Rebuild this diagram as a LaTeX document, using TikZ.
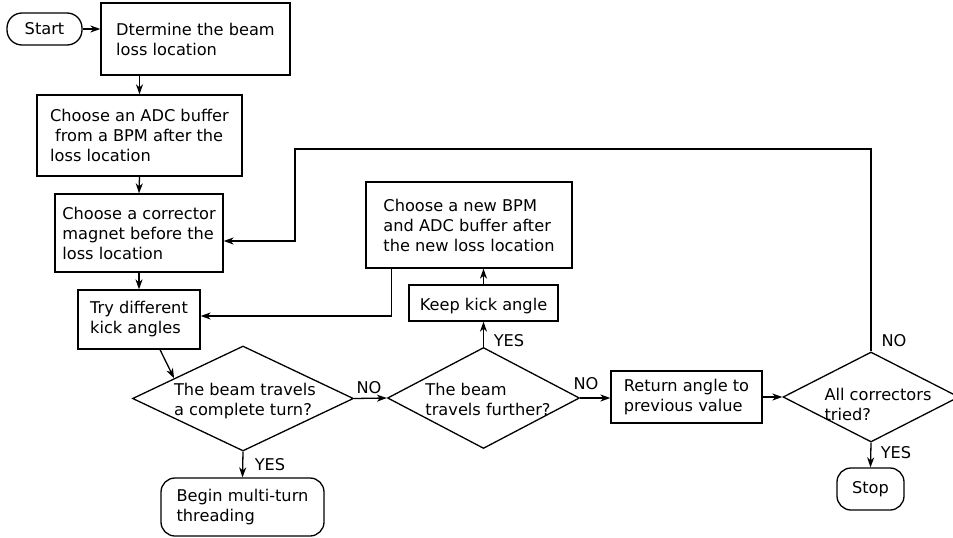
\documentclass[tikz,border=0pt]{standalone}
\usepackage{fontspec}
\setmainfont{DejaVu Sans}
\usetikzlibrary{shapes.geometric,arrows.meta,calc}
\begin{document}
\begin{tikzpicture}[x=1pt,y=-1pt,
  every node/.style={font=\fontsize{16.2}{20}\selectfont},
  box/.style={draw, line width=1.3pt, align=left, inner sep=0pt},
  low/.style={execute at begin node={\rule{0pt}{18.5pt}}},
  term/.style={box, rounded corners=14pt},
  dec/.style={draw, diamond, line width=1.3pt, inner sep=0pt},
  dtext/.style={align=left, inner sep=0pt},
  lab/.style={inner sep=0pt},
  conn/.style={line width=1.3pt, -{Stealth[length=10pt,width=7pt,inset=3pt]}}]
\useasboundingbox (0,0) rectangle (953,538);
% nodes
\node[term, rounded corners=15pt, minimum width=75pt, minimum height=32pt] (start) at (44.5,29) {Start};
\node[box, low, minimum width=189pt, minimum height=72pt] (b1) at (195.5,39) {Dtermine the beam\\loss location};
\node[box, low, minimum width=205pt, minimum height=81pt] (b2) at (139.5,135.5) {Choose an ADC buffer\\\hspace*{5pt}from a BPM after the\\loss location};
\node[box, low, minimum width=168pt, minimum height=78pt] (b3) at (139,233) {Choose a corrector\\magnet before the\\loss location};
\node[box, low, minimum width=122pt, minimum height=59pt] (b4) at (139,319.5) {Try different\\kick angles};
\node[box, low, minimum width=206pt, minimum height=86pt] (b5) at (469,225) {Choose a new BPM\\and ADC buffer after\\the new loss location};
\node[box, low, minimum width=149pt, minimum height=36pt] (b6) at (483.5,303) {Keep kick angle};
\node[box, low, minimum width=151pt, minimum height=52pt] (b7) at (686.5,397) {Return angle to\\previous value};
\node[dec, minimum width=221pt, minimum height=105pt] (d1) at (243,398.5) {};
\node[dtext] (d1t) at (245,401) {The beam travels\\a complete turn?};
\node[dec, minimum width=192pt, minimum height=101pt] (d2) at (483.5,398) {};
\node[dtext] (d2t) at (488,399) {The beam\\travels further?};
\node[dec, minimum width=176pt, minimum height=90pt] (d4) at (871,397) {};
\node[dtext] (d4t) at (878,404) {All correctors\\tried?};
\node[term, low, minimum width=163pt, minimum height=58pt] (begin) at (242.5,507) {Begin multi-turn\\threading};
\node[term, minimum width=67pt, minimum height=42pt] (stop) at (870.5,489) {Stop};
\coordinate (top) at (295,149);
% connectors
\draw[conn] (start.east) -- (start.east -| b1.west);
\draw[conn] (b2.north |- b1.south) -- (b2.north);
\draw[conn] (b2.south) -- (b3.north);
\draw[conn] (b3.south) -- (b4.north);
\draw[conn] ([xshift=21pt]b4.south) -- ($(d1.west)!0.38!(d1.north)$);
\draw[conn] (d1.east) -- (d2.west);
\draw[conn] (d1.south) -- (begin.north);
\draw[conn] (b6.south |- d2.north) -- (b6.south);
\draw[conn] (b6.north) -- (b6.north |- b5.south);
\draw[conn] ([xshift=26pt]b5.south west) |- ([yshift=3.5pt]b4.east);
\draw[conn] (d2.east) -- (d2.east -| b7.west);
\draw[conn] (b7.east) -- (b7.east -| d4.west);
\draw[conn] (d4.north) |- (top) |- ([yshift=-8pt]b3.east);
\draw[conn] (d4.south) -- (stop.north);
% labels
\node[lab] (l1) at (369,388) {NO};
\node[lab] (l2) at (270,465) {YES};
\node[lab] (l3) at (509,341) {YES};
\node[lab] (l4) at (586,384) {NO};
\node[lab] (l5) at (894,341) {NO};
\node[lab] (l6) at (896,453) {YES};
\end{tikzpicture}
\end{document}
